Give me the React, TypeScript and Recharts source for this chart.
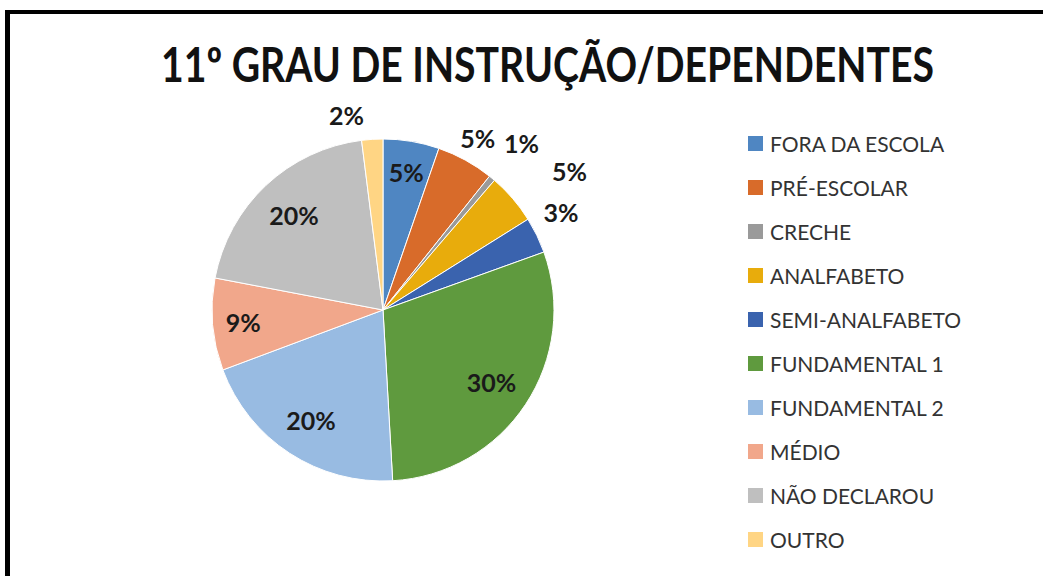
import React, { useLayoutEffect, useRef, useState } from 'react';
import { PieChart, Pie, Cell, Legend } from 'recharts';

const categories = [
  'FORA DA ESCOLA',
  'PRÉ-ESCOLAR',
  'CRECHE',
  'ANALFABETO',
  'SEMI-ANALFABETO',
  'FUNDAMENTAL 1',
  'FUNDAMENTAL 2',
  'MÉDIO',
  'NÃO DECLAROU',
  'OUTRO',
];
const shares = [5.3, 5.4, 0.6, 4.8, 3.4, 29.6, 20.2, 8.7, 20.0, 2.0];
const colors = [
  '#4F86C2',
  '#D86B2A',
  '#9A9A9A',
  '#E8AC0C',
  '#3A63AE',
  '#5F9A3E',
  '#98BBE2',
  '#F1A78B',
  '#BFBFBF',
  '#FFD584',
];
const title = '11º GRAU DE INSTRUÇÃO/DEPENDENTES';

const data = categories.map((name, i) => ({ name, value: shares[i] }));

// label placement per slice: radius as a fraction of the outer radius, plus a small angle nudge (deg, clockwise)
const labelSpots: Record<string, { r: number; nudge: number }> = {
  'FORA DA ESCOLA': { r: 0.82, nudge: 0 },
  'PRÉ-ESCOLAR': { r: 1.15, nudge: 0 },
  CRECHE: { r: 1.27, nudge: 0 },
  ANALFABETO: { r: 1.36, nudge: 4 },
  'SEMI-ANALFABETO': { r: 1.19, nudge: -3 },
  'FUNDAMENTAL 1': { r: 0.76, nudge: 0 },
  'FUNDAMENTAL 2': { r: 0.77, nudge: 0 },
  MÉDIO: { r: 0.82, nudge: 0 },
  'NÃO DECLAROU': { r: 0.76, nudge: 0 },
  OUTRO: { r: 1.16, nudge: -7 },
};

const FONT = 'Lato, "Open Sans", sans-serif';

const renderLabel = (props: any) => {
  const { cx, cy, midAngle, outerRadius, percent, name } = props;
  const spot = labelSpots[name] || { r: 0.8, nudge: 0 };
  const cw = ((90 - midAngle + spot.nudge) * Math.PI) / 180;
  const r = outerRadius * spot.r;
  const x = cx + r * Math.sin(cw);
  const y = cy - r * Math.cos(cw);
  return (
    <text
      x={x}
      y={y}
      textAnchor="middle"
      dominantBaseline="central"
      fill="#1a1a1a"
      fontFamily={FONT}
      fontWeight={700}
      fontSize={25}
    >
      {`${Math.round(percent * 100)}%`}
    </text>
  );
};

const LegendList = () => (
  <div style={{ fontFamily: FONT }}>
    {categories.map((name, i) => (
      <div key={name} style={{ display: 'flex', alignItems: 'center', height: 44.1 }}>
        <span style={{ width: 15, height: 15, background: colors[i], marginRight: 7, display: 'inline-block' }} />
        <span style={{ fontSize: 21, color: '#333' }}>{name}</span>
      </div>
    ))}
  </div>
);

const Title = () => {
  const ref = useRef<HTMLSpanElement>(null);
  const [k, setK] = useState(1);
  useLayoutEffect(() => {
    if (ref.current) setK(773 / ref.current.offsetWidth);
  }, []);
  return (
    <div style={{ position: 'absolute', left: 0, top: 34, width: 1096, textAlign: 'center', lineHeight: '60px' }}>
      <span
        ref={ref}
        style={{
          display: 'inline-block',
          fontFamily: FONT,
          fontWeight: 700,
          fontSize: 48,
          color: '#111',
          whiteSpace: 'nowrap',
          transform: `scaleX(${k})`,
        }}
      >
        {title}
      </span>
    </div>
  );
};

export default function App() {
  return (
    <div style={{ position: 'absolute', left: 0, top: 0, width: 1043, height: 576, background: '#fff', overflow: 'hidden' }}>
      <div
        style={{
          position: 'absolute',
          left: 5,
          top: 10,
          width: 1100,
          height: 600,
          borderLeft: '5px solid #000',
          borderTop: '4px solid #000',
        }}
      />
      <Title />
      <div style={{ position: 'absolute', left: 0, top: 0 }}>
        <PieChart width={1043} height={576} margin={{ top: 0, right: 0, bottom: 0, left: 0 }}>
          <Pie
            data={data}
            dataKey="value"
            nameKey="name"
            cx={383}
            cy={310}
            outerRadius={171}
            startAngle={90}
            endAngle={-270}
            stroke="#fff"
            strokeWidth={1}
            label={renderLabel}
            labelLine={false}
            isAnimationActive={false}
          >
            {data.map((d, i) => (
              <Cell key={d.name} fill={colors[i]} />
            ))}
          </Pie>
          <Legend
            layout="vertical"
            verticalAlign="top"
            align="right"
            content={<LegendList />}
            wrapperStyle={{ left: 748, top: 121, width: 290 }}
          />
        </PieChart>
      </div>
    </div>
  );
}
